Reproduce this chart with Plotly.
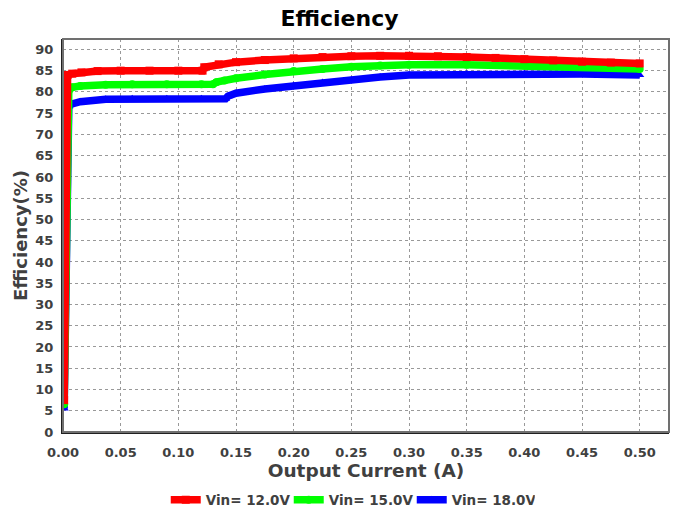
import plotly.graph_objects as go

# Data
red_x = [0.001, 0.004, 0.008, 0.016, 0.03, 0.05, 0.075, 0.1, 0.121, 0.1225, 0.135, 0.15,
         0.175, 0.2, 0.225, 0.25, 0.275, 0.3, 0.325, 0.35, 0.375, 0.4, 0.425, 0.45, 0.475, 0.5]
red_y = [7.5, 84.0, 84.3, 84.6, 84.9, 85.0, 85.0, 85.0, 85.0, 85.8, 86.5, 87.0,
         87.5, 87.9, 88.2, 88.4, 88.5, 88.5, 88.4, 88.2, 88.0, 87.7, 87.4, 87.1, 86.9, 86.7]

green_x = [0.001, 0.005, 0.008, 0.015, 0.037, 0.06, 0.09, 0.12, 0.13, 0.133, 0.14, 0.15,
           0.175, 0.2, 0.225, 0.25, 0.275, 0.3, 0.35, 0.4, 0.45, 0.5]
green_y = [6.5, 80.3, 81.1, 81.4, 81.7, 81.8, 81.8, 81.8, 81.8, 82.3, 82.7, 83.2,
           84.1, 84.9, 85.4, 85.9, 86.2, 86.4, 86.4, 86.2, 85.9, 85.4]

blue_x = [0.001, 0.005, 0.008, 0.015, 0.037, 0.06, 0.09, 0.12, 0.141, 0.143, 0.15,
          0.175, 0.2, 0.225, 0.25, 0.275, 0.3, 0.35, 0.4, 0.45, 0.5]
blue_y = [5.5, 76.6, 77.2, 77.7, 78.3, 78.4, 78.4, 78.4, 78.4, 79.0, 79.7,
          80.7, 81.5, 82.2, 82.8, 83.5, 84.0, 84.2, 84.3, 84.2, 84.0]

series_names = ["Vin= 12.0V", "Vin= 15.0V", "Vin= 18.0V"]
x_ticks = [0.0, 0.05, 0.10, 0.15, 0.20, 0.25, 0.30, 0.35, 0.40, 0.45, 0.50]
y_ticks = list(range(0, 95, 5))

FONT = "DejaVu Sans, Verdana, sans-serif"
TXT = "#404040"

fig = go.Figure()
# draw blue first, red last (red on top), legend reversed to show red first
for xs, ys, name, color, sym in [
    (blue_x, blue_y, series_names[2], "#0000ff", "triangle-up"),
    (green_x, green_y, series_names[1], "#00ff00", "circle"),
    (red_x, red_y, series_names[0], "#ff0000", "square"),
]:
    fig.add_trace(go.Scatter(
        x=xs, y=ys, name=name, mode="lines+markers",
        line=dict(color=color, width=7.5),
        marker=dict(color=color, size=8, symbol=sym),
    ))

fig.update_layout(
    width=679, height=515,
    margin=dict(l=63, r=10, t=39, b=83, autoexpand=False),
    paper_bgcolor="white", plot_bgcolor="white",
    font=dict(family=FONT, color=TXT),
    title=dict(text="<b>Efficiency</b>", x=0.5, xanchor="center", y=0.965, yanchor="middle",
               font=dict(size=22, color="#000000", family=FONT)),
    showlegend=True,
    legend=dict(orientation="h", x=0.474, xanchor="center",
                yref="container", y=0.029, yanchor="middle",
                traceorder="reversed",
                font=dict(size=13.5, color=TXT, family=FONT, weight="bold"),
                itemwidth=30, entrywidth=78, entrywidthmode="pixels",
                tracegroupgap=0, bgcolor="rgba(0,0,0,0)"),
    shapes=[dict(type="rect", xref="paper", yref="paper", x0=0, y0=0, x1=1, y1=1,
                 line=dict(color="#707070", width=2), layer="above")],
)

fig.update_xaxes(
    range=[0, 0.5254], tickvals=x_ticks, tickformat=".2f", automargin=False,
    tickfont=dict(size=13, color=TXT, family=FONT, weight="bold"),
    showgrid=True, gridcolor="#999999", griddash="dot", gridwidth=1,
    showline=True, linecolor="#202020", linewidth=2, zeroline=False,
    ticks="outside", ticklen=7, tickcolor="rgba(0,0,0,0)",
    title=dict(text="<b>Output Current (A)</b>", font=dict(size=18.5, color=TXT, family=FONT),
               standoff=3),
)
fig.update_yaxes(
    range=[0, 92.45], tickvals=y_ticks, automargin=False,
    tickfont=dict(size=13, color=TXT, family=FONT, weight="bold"),
    showgrid=True, gridcolor="#999999", griddash="dot", gridwidth=1,
    showline=True, linecolor="#202020", linewidth=2, zeroline=False,
    ticks="outside", ticklen=5, tickcolor="rgba(0,0,0,0)",
    title=dict(text="<b>Efficiency(%)</b>", font=dict(size=18, color=TXT, family=FONT),
               standoff=3),
)

fig.write_html("out.html")
